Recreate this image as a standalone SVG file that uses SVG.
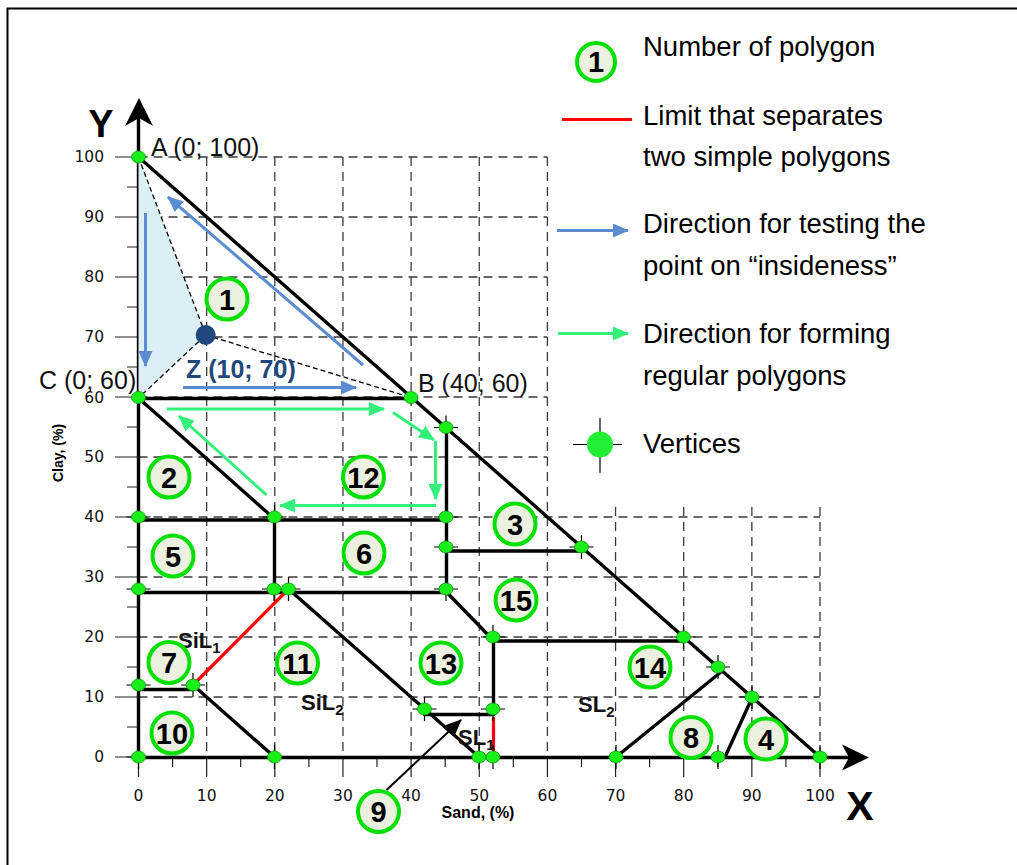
<svg xmlns="http://www.w3.org/2000/svg" width="1017" height="865" viewBox="0 0 1017 865">
<style>
.grid{stroke:#3a3a3a;stroke-width:1.3;stroke-dasharray:9 6;fill:none}
.tick{stroke:#222;stroke-width:1.2;fill:none}
.edge{stroke:#000;stroke-width:3.4;fill:none;stroke-linecap:round}
.red{stroke:#f00;stroke-width:3.2;fill:none}
.blue{stroke:#5b8cd2;stroke-width:3;fill:none}
.green{stroke:#33f07a;stroke-width:3;fill:none}
.thin{stroke:#000;stroke-width:1.3;stroke-dasharray:5 3;fill:none}
.ytl{font-family:"DejaVu Sans",sans-serif;font-size:15.5px;text-anchor:end;fill:#111}
.xtl{font-family:"DejaVu Sans",sans-serif;font-size:15.5px;text-anchor:middle;fill:#111}
.leg{font-family:"Liberation Sans",Arial,sans-serif;font-size:27.5px;fill:#000}
.pt{font-family:"Liberation Sans",Arial,sans-serif;font-size:25px;fill:#111}
.num circle{fill:#ebf1de;stroke:#00e000;stroke-width:4}
.num text{font-family:"Liberation Sans",Arial,sans-serif;font-weight:bold;font-size:29px;text-anchor:middle;fill:#000}
.soil{font-family:"Liberation Sans",Arial,sans-serif;font-weight:bold;font-size:22px;fill:#111}
.sub{font-size:15px}
.vx ellipse{fill:#19f019;stroke:#0a9a0a;stroke-width:0.8}
.cross{stroke:#000;stroke-width:1.2}
</style>
<defs>
<marker id="ab" markerUnits="userSpaceOnUse" markerWidth="16" markerHeight="14" viewBox="0 0 16 14" refX="15" refY="7" orient="auto"><path d="M0,0 L16,7 L0,14 z" fill="#5b8cd2"/></marker>
<marker id="ag" markerUnits="userSpaceOnUse" markerWidth="16" markerHeight="14" viewBox="0 0 16 14" refX="15" refY="7" orient="auto"><path d="M0,0 L16,7 L0,14 z" fill="#33f07a"/></marker>
<marker id="ak" markerUnits="userSpaceOnUse" markerWidth="16" markerHeight="14" viewBox="0 0 16 14" refX="15" refY="7" orient="auto"><path d="M0,0 L16,7 L0,14 z" fill="#000"/></marker>
<g id="cr"><path class="cross" d="M-12,0 H12 M0,-12 V12"/></g>
</defs>

<rect width="1017" height="865" fill="#fff"/>
<path d="M7.5,865 V8.5 H1017" fill="none" stroke="#000" stroke-width="2"/>

<!-- grid -->
<g id="grid">
<path class="grid" d="M206.65,157 V757 M274.8,157 V757 M342.95,157 V757 M411.1,157 V757 M479.25,157 V757 M547.4,157 V757 M615.55,507 V757 M683.7,507 V757 M751.85,507 V757 M820,507 V757"/>
<path class="grid" d="M138.5,157 H547.4 M138.5,217 H547.4 M138.5,277 H547.4 M138.5,337 H547.4 M138.5,397 H547.4 M138.5,457 H547.4 M138.5,517 H820 M138.5,577 H820 M138.5,637 H820 M138.5,697 H820"/>
</g>

<!-- axes -->
<g id="axes">
<path class="tick" d="M115,157 H138.5 M115,217 H138.5 M115,277 H138.5 M115,337 H138.5 M115,397 H138.5 M115,457 H138.5 M115,517 H138.5 M115,577 H138.5 M115,637 H138.5 M115,697 H138.5 M115,757 H138.5 M127,187 H138.5 M127,247 H138.5 M127,307 H138.5 M127,367 H138.5 M127,427 H138.5 M127,487 H138.5 M127,547 H138.5 M127,607 H138.5 M127,667 H138.5 M127,727 H138.5"/>
<path class="tick" d="M138.5,757 V777 M206.65,757 V777 M274.8,757 V777 M342.95,757 V777 M411.1,757 V777 M479.25,757 V777 M547.4,757 V777 M615.55,757 V777 M683.7,757 V777 M751.85,757 V777 M820,757 V777 M172.6,757 V767 M240.7,757 V767 M308.9,757 V767 M377,757 V767 M445.2,757 V767 M513.3,757 V767 M581.5,757 V767 M649.6,757 V767 M717.8,757 V767 M785.9,757 V767"/>
<path d="M138.5,757 V115" stroke="#000" stroke-width="3.4" fill="none"/>
<path d="M139,98 L125,126 L139,118 L153,126 z" fill="#000"/>
<path d="M138.5,757.5 H850" stroke="#000" stroke-width="3.4" fill="none"/>
<path d="M869,757.5 L842,744.5 L849,757.5 L842,770.5 z" fill="#000"/>
<text class="ytl" x="104" y="162">100</text>
<text class="ytl" x="104" y="222">90</text>
<text class="ytl" x="104" y="282">80</text>
<text class="ytl" x="104" y="342">70</text>
<text class="ytl" x="104" y="403">60</text>
<text class="ytl" x="104" y="462">50</text>
<text class="ytl" x="104" y="522">40</text>
<text class="ytl" x="104" y="582">30</text>
<text class="ytl" x="104" y="642">20</text>
<text class="ytl" x="104" y="702">10</text>
<text class="ytl" x="104" y="762">0</text>
<text class="xtl" x="138.5" y="801">0</text>
<text class="xtl" x="206.65" y="801">10</text>
<text class="xtl" x="274.8" y="801">20</text>
<text class="xtl" x="342.95" y="801">30</text>
<text class="xtl" x="411.1" y="801">40</text>
<text class="xtl" x="479.25" y="801">50</text>
<text class="xtl" x="547.4" y="801">60</text>
<text class="xtl" x="615.55" y="801">70</text>
<text class="xtl" x="683.7" y="801">80</text>
<text class="xtl" x="751.85" y="801">90</text>
<text class="xtl" x="820" y="801">100</text>
<text x="101" y="137" font-family="Liberation Sans,Arial,sans-serif" font-weight="bold" font-size="38" text-anchor="middle">Y</text>
<text x="860" y="820" font-family="Liberation Sans,Arial,sans-serif" font-weight="bold" font-size="41" text-anchor="middle">X</text>
<text x="478" y="818" font-family="Liberation Sans,Arial,sans-serif" font-weight="bold" font-size="16" text-anchor="middle">Sand, (%)</text>
<text transform="translate(63,453) rotate(-90)" font-family="Liberation Sans,Arial,sans-serif" font-weight="bold" font-size="14" text-anchor="middle">Clay, (%)</text>
</g>

<!-- triangle test region -->
<g id="test-region">
<path d="M138.5,157 L205.7,335 L138.5,398 z" fill="#daeef3"/>
<path class="thin" d="M138.5,157 L205.7,335 L138.5,398 M205.7,335 L411,397.5"/>
<path d="M142,161 L176,192" stroke="#999" stroke-width="1.3" stroke-dasharray="2 4" fill="none"/>
</g>

<!-- connectors -->
<g id="connectors">
<path class="edge" d="M138.5,157 L820,757"/>
<path class="edge" d="M138.5,398.5 H411"/>
<path class="edge" d="M138.5,398 L274.5,519"/>
<path class="edge" d="M138.5,520 H446.5"/>
<path class="edge" d="M274.5,520 V592"/>
<path class="edge" d="M446.5,427.5 V592"/>
<path class="edge" d="M138.5,592.5 H446.5"/>
<path class="edge" d="M446.5,551 H581.5"/>
<path class="edge" d="M446.5,592 L493,640"/>
<path class="edge" d="M493,641 H683.5"/>
<path class="edge" d="M493.5,641 V714"/>
<path class="edge" d="M424.5,714.5 H493.5"/>
<path class="edge" d="M288.5,589 L479,757"/>
<path class="edge" d="M138.5,689.5 H193"/>
<path class="edge" d="M193,685 L274.5,757"/>
<path class="edge" d="M616,757 L721,672"/>
<path class="edge" d="M725,757 L752,698"/>
<path class="red" d="M193,685 L288.5,589"/>
<path class="red" d="M493.5,717 V757"/>
<path class="blue" d="M145.5,213 V366" marker-end="url(#ab)"/>
<path class="blue" d="M183,387.5 H356" marker-end="url(#ab)"/>
<path class="blue" d="M363,365 L168,197" marker-end="url(#ab)"/>
<path class="green" d="M167,409 H384" marker-end="url(#ag)"/>
<path class="green" d="M393,412.5 L434,440" marker-end="url(#ag)"/>
<path class="green" d="M435.5,441 V499" marker-end="url(#ag)"/>
<path class="green" d="M436,505.5 H280" marker-end="url(#ag)"/>
<path class="green" d="M266.5,495 L179,416" marker-end="url(#ag)"/>
<path d="M386.5,790 L461,720" stroke="#000" stroke-width="2" fill="none" marker-end="url(#ak)"/>
</g>

<!-- vertices -->
<g id="vertices" class="vx">
<use href="#cr" x="446" y="427.5"/><use href="#cr" x="138.5" y="517"/><use href="#cr" x="274.5" y="517"/><use href="#cr" x="446" y="517"/>
<use href="#cr" x="446" y="547"/><use href="#cr" x="581.5" y="547"/><use href="#cr" x="138.5" y="589"/><use href="#cr" x="274" y="589"/>
<use href="#cr" x="288.5" y="589"/><use href="#cr" x="446" y="589"/><use href="#cr" x="493" y="637"/><use href="#cr" x="683.5" y="637"/>
<use href="#cr" x="138.5" y="685"/><use href="#cr" x="193" y="685"/><use href="#cr" x="718" y="667"/><use href="#cr" x="752" y="697"/>
<use href="#cr" x="424.5" y="709"/><use href="#cr" x="493" y="709"/><use href="#cr" x="138.5" y="757"/><use href="#cr" x="274.5" y="757"/>
<use href="#cr" x="479" y="757"/><use href="#cr" x="493" y="757"/><use href="#cr" x="616" y="757"/><use href="#cr" x="718" y="757"/><use href="#cr" x="820" y="757"/>
<ellipse cx="138.5" cy="157" rx="7" ry="6"/>
<ellipse cx="138.5" cy="397.5" rx="7" ry="6"/>
<ellipse cx="411" cy="397.5" rx="7" ry="6"/>
<ellipse cx="446" cy="427.5" rx="7" ry="6"/>
<ellipse cx="138.5" cy="517" rx="7" ry="6"/>
<ellipse cx="274.5" cy="517" rx="7" ry="6"/>
<ellipse cx="446" cy="517" rx="7" ry="6"/>
<ellipse cx="446" cy="547" rx="7" ry="6"/>
<ellipse cx="581.5" cy="547" rx="7" ry="6"/>
<ellipse cx="138.5" cy="589" rx="7" ry="6"/>
<ellipse cx="274" cy="589" rx="7" ry="6"/>
<ellipse cx="288.5" cy="589" rx="7" ry="6"/>
<ellipse cx="446" cy="589" rx="7" ry="6"/>
<ellipse cx="493" cy="637" rx="7" ry="6"/>
<ellipse cx="683.5" cy="637" rx="7" ry="6"/>
<ellipse cx="138.5" cy="685" rx="7" ry="6"/>
<ellipse cx="193" cy="685" rx="7" ry="6"/>
<ellipse cx="718" cy="667" rx="7" ry="6"/>
<ellipse cx="752" cy="697" rx="7" ry="6"/>
<ellipse cx="424.5" cy="709" rx="7" ry="6"/>
<ellipse cx="493" cy="709" rx="7" ry="6"/>
<ellipse cx="138.5" cy="757" rx="7" ry="6"/>
<ellipse cx="274.5" cy="757" rx="7" ry="6"/>
<ellipse cx="479" cy="757" rx="7" ry="6"/>
<ellipse cx="493" cy="757" rx="7" ry="6"/>
<ellipse cx="616" cy="757" rx="7" ry="6"/>
<ellipse cx="718" cy="757" rx="7" ry="6"/>
<ellipse cx="820" cy="757" rx="7" ry="6"/>
</g>

<!-- point Z and labels -->
<g id="point-Z"><circle cx="205.7" cy="335" r="10" fill="#1f497d"/></g>
<g id="point-labels">
<text class="pt" x="151" y="156">A (0; 100)</text>
<text class="pt" x="39" y="389">C (0; 60)</text>
<text class="pt" x="418" y="392">B (40; 60)</text>
<text x="186" y="378" font-family="Liberation Sans,Arial,sans-serif" font-weight="bold" font-size="25" fill="#1f497d">Z (10; 70)</text>
</g>

<!-- soil labels -->
<g id="soil-labels">
<text class="soil" x="178" y="648">SiL<tspan class="sub" dy="5">1</tspan></text>
<text class="soil" x="301" y="710">SiL<tspan class="sub" dy="5">2</tspan></text>
<text class="soil" x="458" y="745">SL<tspan class="sub" dy="5">1</tspan></text>
<text class="soil" x="578" y="712">SL<tspan class="sub" dy="5">2</tspan></text>
</g>

<!-- polygon numbers -->
<g id="n1" class="num"><circle cx="227" cy="299" r="20.5"/><text x="227" y="309.5">1</text></g>
<g id="n2" class="num"><circle cx="169" cy="477" r="20.5"/><text x="169" y="487.5">2</text></g>
<g id="n3" class="num"><circle cx="515" cy="524" r="20.5"/><text x="515" y="534.5">3</text></g>
<g id="n4" class="num"><circle cx="766" cy="739" r="20.5"/><text x="766" y="749.5">4</text></g>
<g id="n5" class="num"><circle cx="173" cy="556" r="20.5"/><text x="173" y="566.5">5</text></g>
<g id="n6" class="num"><circle cx="364" cy="553" r="20.5"/><text x="364" y="563.5">6</text></g>
<g id="n7" class="num"><circle cx="169" cy="662.5" r="20.5"/><text x="169" y="673">7</text></g>
<g id="n8" class="num"><circle cx="691" cy="737.5" r="20.5"/><text x="691" y="748">8</text></g>
<g id="n9" class="num"><circle cx="378.5" cy="811.5" r="20.5"/><text x="378.5" y="822">9</text></g>
<g id="n10" class="num"><circle cx="172" cy="733" r="20.5"/><text x="172" y="743.5">10</text></g>
<g id="n11" class="num"><circle cx="297.5" cy="663" r="20.5"/><text x="297.5" y="673.5">11</text></g>
<g id="n12" class="num"><circle cx="363.5" cy="477" r="20.5"/><text x="363.5" y="487.5">12</text></g>
<g id="n13" class="num"><circle cx="441" cy="663" r="20.5"/><text x="441" y="673.5">13</text></g>
<g id="n14" class="num"><circle cx="650" cy="667" r="20.5"/><text x="650" y="677.5">14</text></g>
<g id="n15" class="num"><circle cx="516" cy="600" r="20.5"/><text x="516" y="610.5">15</text></g>

<!-- legend -->
<g id="legend">
<g class="num"><circle cx="596" cy="62" r="19"/><text x="596" y="72" font-size="27">1</text></g>
<text class="leg" x="643" y="56">Number of polygon</text>
<path class="red" d="M562,119.5 H632"/>
<text class="leg" x="643" y="125">Limit that separates</text>
<text class="leg" x="643" y="166">two simple polygons</text>
<path class="blue" d="M557,230.5 H628" marker-end="url(#ab)"/>
<text class="leg" x="643" y="233">Direction for testing the</text>
<text class="leg" x="643" y="275">point on “insideness”</text>
<path class="green" d="M558,333.5 H628" marker-end="url(#ag)"/>
<text class="leg" x="643" y="343">Direction for forming</text>
<text class="leg" x="643" y="385">regular polygons</text>
<path class="cross" d="M573,444.5 H622 M600,418 V473"/>
<circle cx="600" cy="444.5" r="13" fill="#22ee33"/>
<text class="leg" x="643" y="453">Vertices</text>
</g>
</svg>
